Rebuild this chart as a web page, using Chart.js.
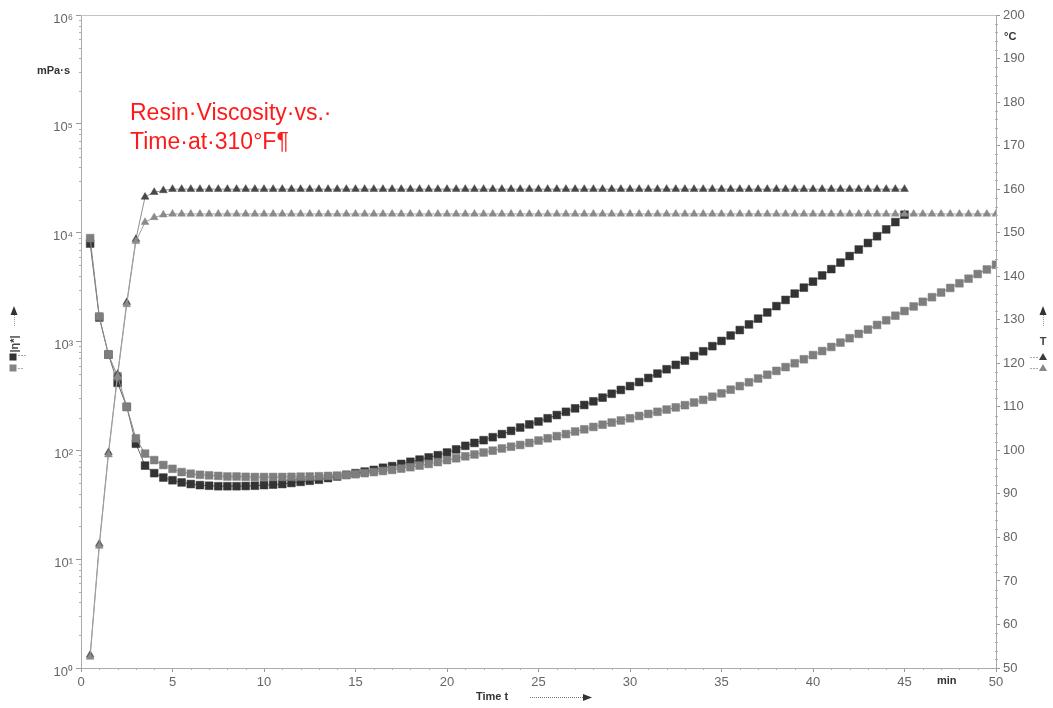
<!DOCTYPE html>
<html>
<head>
<meta charset="utf-8">
<script src="https://cdn.jsdelivr.net/npm/chart.js@4.4.1/dist/chart.umd.min.js"></script>
<style>
  html, body { margin: 0; padding: 0; background: #fff; }
  canvas { display: block; }
</style>
</head>
<body>
<canvas id="c" width="1053" height="708"></canvas>
<script>
// Sample times, min (one reading every half minute)
const times = [
  0.5, 1, 1.5, 2, 2.5, 3, 3.5, 4, 4.5, 5,
  5.5, 6, 6.5, 7, 7.5, 8, 8.5, 9, 9.5, 10,
  10.5, 11, 11.5, 12, 12.5, 13, 13.5, 14, 14.5, 15,
  15.5, 16, 16.5, 17, 17.5, 18, 18.5, 19, 19.5, 20,
  20.5, 21, 21.5, 22, 22.5, 23, 23.5, 24, 24.5, 25,
  25.5, 26, 26.5, 27, 27.5, 28, 28.5, 29, 29.5, 30,
  30.5, 31, 31.5, 32, 32.5, 33, 33.5, 34, 34.5, 35,
  35.5, 36, 36.5, 37, 37.5, 38, 38.5, 39, 39.5, 40,
  40.5, 41, 41.5, 42, 42.5, 43, 43.5, 44, 44.5, 45,
  45.5, 46, 46.5, 47, 47.5, 48, 48.5, 49, 49.5, 50
];

// Complex viscosity |eta*|, mPa·s — run 1 (dark squares, ends at 45 min)
const viscosityRun1 = [
  7940, 1660, 759, 417, 251, 115, 72.4, 61.7, 56.2, 53.1,
  50.7, 49.0, 47.9, 47.3, 46.8, 46.8, 46.8, 47.0, 47.3, 47.9,
  48.4, 49.0, 50.1, 51.3, 52.5, 53.7, 55.6, 57.5, 59.6, 61.7,
  63.8, 66.1, 69.2, 71.6, 75.0, 78.5, 82.2, 86.1, 90.2, 95.5,
  102, 110, 117, 124, 132, 141, 151, 162, 173, 184,
  197, 211, 226, 243, 261, 282, 305, 331, 359, 389,
  424, 462, 507, 556, 610, 668, 736, 813, 906, 1012,
  1135, 1274, 1435, 1622, 1849, 2113, 2410, 2754, 3126, 3548,
  4046, 4624, 5309, 6095, 6998, 8035, 9268, 10715, 12503, 14622
];

// Complex viscosity |eta*|, mPa·s — run 2 (grey squares, to 50 min)
const viscosityRun2 = [
  8910, 1700, 759, 479, 251, 129, 93.3, 81.3, 73.3, 67.6,
  63.1, 61.0, 59.6, 58.9, 58.2, 57.5, 57.5, 57.1, 56.9, 56.9,
  56.9, 56.9, 57.1, 57.3, 57.5, 57.8, 58.2, 58.6, 59.3, 60.3,
  61.7, 63.1, 64.6, 66.1, 67.9, 70.0, 72.4, 75.0, 78.0, 81.3,
  84.5, 88.1, 91.6, 95.5, 99.3, 104, 108, 112, 117, 123,
  129, 135, 141, 149, 156, 164, 172, 180, 188, 197,
  207, 216, 226, 237, 248, 260, 275, 291, 311, 334,
  361, 389, 422, 457, 495, 537, 582, 631, 687, 750,
  817, 891, 977, 1072, 1175, 1288, 1419, 1567, 1726, 1905,
  2099, 2317, 2553, 2818, 3105, 3428, 3776, 4169, 4592, 5070
];

// Temperature T, °C — run 1 (dark triangles)
const tempRun1 = [
  53, 78.5, 99.5, 117.5, 134, 148.5, 158.2, 159.3, 159.7, 160,
  160, 160, 160, 160, 160, 160, 160, 160, 160, 160,
  160, 160, 160, 160, 160, 160, 160, 160, 160, 160,
  160, 160, 160, 160, 160, 160, 160, 160, 160, 160,
  160, 160, 160, 160, 160, 160, 160, 160, 160, 160,
  160, 160, 160, 160, 160, 160, 160, 160, 160, 160,
  160, 160, 160, 160, 160, 160, 160, 160, 160, 160,
  160, 160, 160, 160, 160, 160, 160, 160, 160, 160,
  160, 160, 160, 160, 160, 160, 160, 160, 160, 160
];

// Temperature T, °C — run 2 (light triangles)
const tempRun2 = [
  52.5, 78, 99, 117, 133.5, 148, 152.4, 153.5, 154.1, 154.3,
  154.3, 154.3, 154.3, 154.3, 154.3, 154.3, 154.3, 154.3, 154.3, 154.3,
  154.3, 154.3, 154.3, 154.3, 154.3, 154.3, 154.3, 154.3, 154.3, 154.3,
  154.3, 154.3, 154.3, 154.3, 154.3, 154.3, 154.3, 154.3, 154.3, 154.3,
  154.3, 154.3, 154.3, 154.3, 154.3, 154.3, 154.3, 154.3, 154.3, 154.3,
  154.3, 154.3, 154.3, 154.3, 154.3, 154.3, 154.3, 154.3, 154.3, 154.3,
  154.3, 154.3, 154.3, 154.3, 154.3, 154.3, 154.3, 154.3, 154.3, 154.3,
  154.3, 154.3, 154.3, 154.3, 154.3, 154.3, 154.3, 154.3, 154.3, 154.3,
  154.3, 154.3, 154.3, 154.3, 154.3, 154.3, 154.3, 154.3, 154.3, 154.3,
  154.3, 154.3, 154.3, 154.3, 154.3, 154.3, 154.3, 154.3, 154.3, 154.3
];

// Axis ticks
const viscosityTicks = [1, 10, 100, 1000, 10000, 100000, 1000000];
const superscripts = ['⁰', '¹', '²', '³', '⁴', '⁵', '⁶'];
const timeRange = [0, 50];
const tempRange = [50, 200];

const FONT = '"Liberation Sans", Arial, Helvetica, sans-serif';

function pairs(xs, ys) {
  return ys.map((y, i) => ({ x: xs[i], y }));
}

// Axes decorations, units, side symbols and the red caption
const decor = {
  id: 'decor',
  afterDraw(chart) {
    const { ctx, chartArea: a, scales } = chart;
    ctx.save();

    // top frame line
    ctx.strokeStyle = '#c4c4c4';
    ctx.lineWidth = 1;
    ctx.beginPath();
    ctx.moveTo(a.left, a.top + 0.5);
    ctx.lineTo(a.right, a.top + 0.5);
    ctx.stroke();

    // minor ticks
    ctx.strokeStyle = '#b0b0b0';
    ctx.beginPath();
    for (let v = timeRange[0] + 1; v < timeRange[1]; v++) {
      if (v % 5 === 0) continue;
      const px = Math.round(scales.x.getPixelForValue(v)) + 0.5;
      ctx.moveTo(px, a.bottom);
      ctx.lineTo(px, a.bottom + 2);
    }
    for (let d = 0; d < viscosityTicks.length - 1; d++) {
      for (let m = 2; m <= 9; m++) {
        const py = Math.round(scales.y.getPixelForValue(viscosityTicks[d] * m)) + 0.5;
        ctx.moveTo(a.left - 2, py);
        ctx.lineTo(a.left + 1, py);
      }
    }
    for (let v = tempRange[0] + 2; v < tempRange[1]; v += 2) {
      if (v % 10 === 0) continue;
      const py = Math.round(scales.y2.getPixelForValue(v)) + 0.5;
      ctx.moveTo(a.right - 1, py);
      ctx.lineTo(a.right + 2, py);
    }
    ctx.stroke();

    // unit labels
    ctx.fillStyle = '#333';
    ctx.font = 'bold 11px ' + FONT;
    ctx.textBaseline = 'middle';
    ctx.textAlign = 'right';
    ctx.fillText('mPa·s', 70, 71);
    ctx.textAlign = 'left';
    ctx.fillText('°C', 1004, 37);
    ctx.fillText('min', 937, 681);
    ctx.fillText('Time t', 476, 697);

    // arrow after "Time t"
    ctx.strokeStyle = '#777';
    ctx.setLineDash([1, 1]);
    ctx.beginPath();
    ctx.moveTo(530, 697.5);
    ctx.lineTo(584, 697.5);
    ctx.stroke();
    ctx.setLineDash([]);
    ctx.fillStyle = '#333';
    ctx.beginPath();
    ctx.moveTo(592, 697.5);
    ctx.lineTo(583, 694);
    ctx.lineTo(583, 701);
    ctx.closePath();
    ctx.fill();

    // vertical arrows beside the axis symbols
    const upArrow = (x, y) => {
      ctx.fillStyle = '#333';
      ctx.beginPath();
      ctx.moveTo(x, y - 5);
      ctx.lineTo(x - 3.5, y + 4);
      ctx.lineTo(x + 3.5, y + 4);
      ctx.closePath();
      ctx.fill();
      ctx.strokeStyle = '#999';
      ctx.setLineDash([1, 1]);
      ctx.beginPath();
      ctx.moveTo(x + 0.5, y + 4);
      ctx.lineTo(x + 0.5, y + 15);
      ctx.stroke();
      ctx.setLineDash([]);
    };
    upArrow(14, 311);
    upArrow(1043, 311);

    // left axis symbol |eta*| with its two markers
    ctx.save();
    ctx.translate(15, 344);
    ctx.rotate(-Math.PI / 2);
    ctx.fillStyle = '#444';
    ctx.font = 'bold 11px ' + FONT;
    ctx.textAlign = 'center';
    ctx.textBaseline = 'middle';
    ctx.fillText('|η*|', 0, 0);
    ctx.restore();
    const sq = (x, y, c) => { ctx.fillStyle = c; ctx.fillRect(x - 3.5, y - 3.5, 7, 7); };
    sq(13, 357, '#333');
    sq(13, 368, '#858585');
    ctx.strokeStyle = '#aaa';
    ctx.setLineDash([2, 1]);
    ctx.beginPath();
    ctx.moveTo(18, 355.5); ctx.lineTo(26, 355.5);
    ctx.moveTo(18, 368.5); ctx.lineTo(24, 368.5);
    ctx.stroke();
    ctx.setLineDash([]);

    // right axis symbol T with its two markers
    ctx.fillStyle = '#444';
    ctx.font = 'bold 11px ' + FONT;
    ctx.textAlign = 'center';
    ctx.textBaseline = 'middle';
    ctx.fillText('T', 1043, 342);
    const tri = (x, y, c) => {
      ctx.fillStyle = c;
      ctx.beginPath();
      ctx.moveTo(x, y - 4);
      ctx.lineTo(x - 4, y + 3);
      ctx.lineTo(x + 4, y + 3);
      ctx.closePath();
      ctx.fill();
    };
    tri(1043, 357, '#3a3a3a');
    tri(1043, 368, '#888');
    ctx.strokeStyle = '#aaa';
    ctx.setLineDash([2, 1]);
    ctx.beginPath();
    ctx.moveTo(1030, 357.5); ctx.lineTo(1038, 357.5);
    ctx.moveTo(1030, 368.5); ctx.lineTo(1038, 368.5);
    ctx.stroke();
    ctx.setLineDash([]);

    // caption
    ctx.fillStyle = '#ff1a1a';
    ctx.font = '23px ' + FONT;
    ctx.textAlign = 'left';
    ctx.textBaseline = 'alphabetic';
    ctx.fillText('Resin·Viscosity·vs.·', 130, 120);
    ctx.fillText('Time·at·310°F¶', 130, 149);

    ctx.restore();
  }
};

const tickFont = { family: FONT, size: 13 };

new Chart(document.getElementById('c'), {
  type: 'line',
  data: {
    datasets: [
      {
        label: 'T run 2',
        data: pairs(times, tempRun2),
        yAxisID: 'y2',
        pointStyle: 'triangle',
        pointRadius: 4.5,
        pointBackgroundColor: '#8a8a8a',
        pointBorderColor: '#8a8a8a',
        pointBorderWidth: 0.5,
        borderColor: '#a0a0a0',
        borderWidth: 1
      },
      {
        label: 'T run 1',
        data: pairs(times, tempRun1),
        yAxisID: 'y2',
        pointStyle: 'triangle',
        pointRadius: 4.5,
        pointBackgroundColor: '#474747',
        pointBorderColor: '#474747',
        pointBorderWidth: 0.5,
        borderColor: '#909090',
        borderWidth: 1
      },
      {
        label: '|η*| run 2',
        data: pairs(times, viscosityRun2),
        yAxisID: 'y',
        pointStyle: 'rect',
        pointRadius: 5.5,
        pointBackgroundColor: '#7e7e7e',
        pointBorderColor: '#7e7e7e',
        pointBorderWidth: 0.5,
        borderColor: '#8a8a8a',
        borderWidth: 1
      },
      {
        label: '|η*| run 1',
        data: pairs(times, viscosityRun1),
        yAxisID: 'y',
        pointStyle: 'rect',
        pointRadius: 5.5,
        pointBackgroundColor: '#333333',
        pointBorderColor: '#333333',
        pointBorderWidth: 0.5,
        borderColor: '#666',
        borderWidth: 1
      }
    ]
  },
  options: {
    responsive: false,
    animation: false,
    devicePixelRatio: 1,
    layout: { padding: { top: 15, left: 0, right: 0, bottom: 0 } },
    plugins: {
      legend: { display: false },
      tooltip: { enabled: false }
    },
    elements: { line: { tension: 0 } },
    scales: {
      x: {
        type: 'linear',
        min: timeRange[0],
        max: timeRange[1],
        afterFit(s) { s.height = 40; },
        border: { display: true, color: '#aaa', dash: [2, 2] },
        grid: { drawOnChartArea: false, drawTicks: true, tickLength: 4, color: '#999' },
        ticks: { stepSize: 5, color: '#666', font: tickFont, padding: 3, maxRotation: 0, autoSkip: false }
      },
      y: {
        type: 'logarithmic',
        position: 'left',
        min: viscosityTicks[0],
        max: viscosityTicks[viscosityTicks.length - 1],
        afterFit(s) { s.width = 81; },
        afterBuildTicks(s) { s.ticks = viscosityTicks.map(v => ({ value: v, major: true })); },
        border: { display: true, color: '#aaa', dash: [2, 2] },
        grid: { drawOnChartArea: false, drawTicks: true, tickLength: 5, color: '#999' },
        ticks: {
          color: '#666',
          font: tickFont,
          padding: 3,
          labelOffset: 4,
          autoSkip: false,
          callback(v) {
            const e = Math.round(Math.log10(v));
            return '10' + superscripts[e];
          }
        }
      },
      y2: {
        type: 'linear',
        position: 'right',
        min: tempRange[0],
        max: tempRange[1],
        afterFit(s) { s.width = 57; },
        border: { display: true, color: '#aaa', dash: [2, 2] },
        grid: { drawOnChartArea: false, drawTicks: true, tickLength: 4, color: '#999' },
        ticks: { stepSize: 10, color: '#666', font: tickFont, padding: 3, autoSkip: false }
      }
    }
  },
  plugins: [decor]
});
</script>
</body>
</html>
